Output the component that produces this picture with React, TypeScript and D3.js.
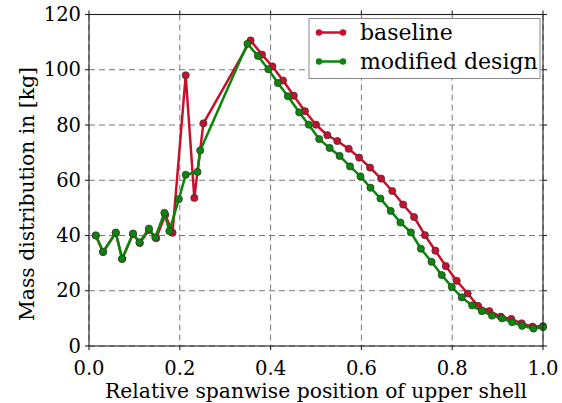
import React from "react";
import * as d3 from "d3";

const baselineX = [0.015, 0.031, 0.059, 0.073, 0.097, 0.112, 0.132, 0.148, 0.168, 0.184, 0.213, 0.232, 0.252, 0.356, 0.381, 0.404, 0.4275, 0.451, 0.4756, 0.5, 0.525, 0.547, 0.572, 0.595, 0.619, 0.6435, 0.668, 0.692, 0.716, 0.74, 0.763, 0.786, 0.81, 0.834, 0.857, 0.882, 0.907, 0.93, 0.953, 0.977, 1.0];
const baselineY = [40, 34, 41, 31.5, 40.5, 37.3, 42, 39, 47.5, 41, 98, 53.6, 80.6, 110.6, 105.5, 101.2, 96.1, 90.6, 85, 80.1, 76.3, 74.2, 71.4, 68.2, 64.6, 60.6, 56.1, 51.2, 46.7, 40.1, 34.5, 28.9, 23.6, 19, 14.5, 12.6, 10.6, 9.8, 8.2, 7, 7.2];

const modifiedX = [0.015, 0.031, 0.059, 0.073, 0.097, 0.111, 0.132, 0.146, 0.166, 0.177, 0.198, 0.213, 0.239, 0.245, 0.349, 0.372, 0.395, 0.416, 0.438, 0.463, 0.484, 0.507, 0.53, 0.552, 0.575, 0.598, 0.62, 0.642, 0.6645, 0.686, 0.709, 0.731, 0.7545, 0.777, 0.799, 0.821, 0.844, 0.8655, 0.8877, 0.91, 0.932, 0.954, 0.979, 1.0];
const modifiedY = [40, 34.1, 41, 31.6, 40.7, 37.5, 42.5, 39.3, 48.2, 41.6, 53.2, 62, 63, 70.8, 109.4, 105, 100.2, 95.2, 90.4, 84.6, 80.1, 74.9, 71.7, 68.8, 65, 61.4, 57.3, 53.4, 48.9, 44.7, 41.1, 35.2, 30.5, 25.7, 21.4, 17.6, 14.7, 12.6, 11, 10, 8.6, 7.3, 6.3, 6.8];

const xTicks = [0, 0.2, 0.4, 0.6, 0.8, 1.0];
const yTicks = [0, 20, 40, 60, 80, 100, 120];
const seriesNames = ["baseline", "modified design"];
const seriesColors = ["#c8102e", "#0a860a"];

const W = 562, H = 403;
const M = { left: 89, right: 543, top: 14.5, bottom: 346 };
const FONT = "'DejaVu Serif', 'Liberation Serif', serif";

export default function App() {
  const x = d3.scaleLinear().domain([0, 1]).range([M.left, M.right]);
  const y = d3.scaleLinear().domain([0, 120]).range([M.bottom, M.top]);
  const line = d3.line<[number, number]>().x(d => x(d[0])).y(d => y(d[1]));
  const series = [
    { name: seriesNames[0], color: seriesColors[0], pts: baselineX.map((v, i) => [v, baselineY[i]] as [number, number]) },
    { name: seriesNames[1], color: seriesColors[1], pts: modifiedX.map((v, i) => [v, modifiedY[i]] as [number, number]) },
  ];
  const lg = { x: 309, y: 18.5, w: 231, h: 60 };
  return (
    <svg width={W} height={H} style={{ position: "absolute", left: 0, top: 0, background: "#fff" }}>
      <g stroke="#777" strokeWidth={1} strokeDasharray="6,4">
        {xTicks.map(t => <line key={"gx" + t} x1={x(t)} x2={x(t)} y1={M.top} y2={M.bottom} />)}
        {yTicks.map(t => <line key={"gy" + t} x1={M.left} x2={M.right} y1={y(t)} y2={y(t)} />)}
      </g>
      {series.map(s => (
        <g key={s.name}>
          <path d={line(s.pts) || ""} fill="none" stroke={s.color} strokeWidth={2.5} strokeLinejoin="round" />
          {s.pts.map((p, i) => (
            <circle key={i} cx={x(p[0])} cy={y(p[1])} r={3.6} fill={s.color} stroke="#333" strokeWidth={0.7} />
          ))}
        </g>
      ))}
      <g stroke="#222" strokeWidth={1.1} fill="none">
        <rect x={M.left} y={M.top} width={M.right - M.left} height={M.bottom - M.top} />
        {xTicks.map(t => <line key={"tx" + t} x1={x(t)} x2={x(t)} y1={M.bottom} y2={M.bottom + 4} />)}
        {xTicks.map(t => <line key={"ttx" + t} x1={x(t)} x2={x(t)} y1={M.top} y2={M.top - 4} />)}
        {yTicks.map(t => <line key={"ty" + t} x1={M.left - 4} x2={M.left} y1={y(t)} y2={y(t)} />)}
        {yTicks.map(t => <line key={"tty" + t} x1={M.right} x2={M.right + 4} y1={y(t)} y2={y(t)} />)}
      </g>
      <g fontFamily={FONT} fontSize={19.5} fill="#000">
        {xTicks.map(t => (
          <text key={"lx" + t} x={x(t)} y={374.5} textAnchor="middle">{t.toFixed(1)}</text>
        ))}
        {yTicks.map(t => (
          <text key={"ly" + t} x={M.left - 8} y={y(t) + 6.5} textAnchor="end">{t}</text>
        ))}
      </g>
      <g fontFamily={FONT} fontSize={20.3} fill="#000">
        <text x={(M.left + M.right) / 2} y={398} textAnchor="middle">Relative spanwise position of upper shell</text>
        <text transform={`translate(34,194) rotate(-90)`} textAnchor="middle">Mass distribution in [kg]</text>
      </g>
      <g>
        <rect x={lg.x} y={lg.y} width={lg.w} height={lg.h} fill="#fff" stroke="#888" strokeWidth={1} />
        {series.map((s, i) => {
          const cy = lg.y + 14 + i * 29;
          return (
            <g key={"lg" + s.name}>
              <line x1={lg.x + 10} x2={lg.x + 34} y1={cy} y2={cy} stroke={s.color} strokeWidth={2.5} />
              <circle cx={lg.x + 10} cy={cy} r={3.2} fill={s.color} />
              <circle cx={lg.x + 34} cy={cy} r={3.2} fill={s.color} />
              <text x={lg.x + 51} y={cy + 7.5} fontFamily={FONT} fontSize={22}>{s.name}</text>
            </g>
          );
        })}
      </g>
    </svg>
  );
}
